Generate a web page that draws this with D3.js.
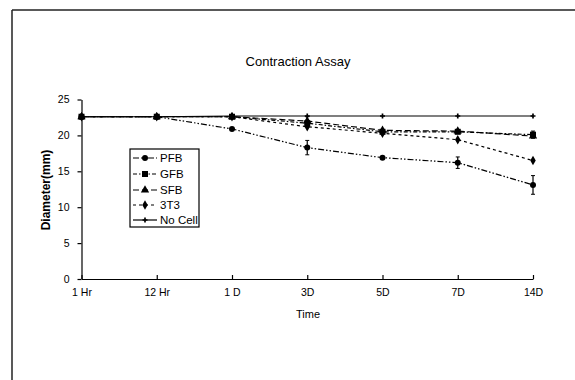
<!DOCTYPE html>
<html>
<head>
<meta charset="utf-8">
<script src="https://cdn.jsdelivr.net/npm/d3@7"></script>
<style>
  body { margin: 0; background: #fff; }
  svg { display: block; font-family: "Liberation Sans", Arial, sans-serif; }
  .axis path, .axis line { stroke: #000; stroke-width: 1.2; }
  .axis text { font-size: 10.5px; fill: #000; }
</style>
</head>
<body>
<svg id="chart" width="575" height="380"></svg>
<script>
// time points
var times = ["1 Hr", "12 Hr", "1 D", "3D", "5D", "7D", "14D"];
var y_ticks = [0, 5, 10, 15, 20, 25];

// diameters (mm)
var pfb   = [22.6, 22.6, 20.9, 18.3, 16.9, 16.2, 13.1];
var gfb   = [22.6, 22.6, 22.6, 21.7, 20.5, 20.5, 20.1];
var sfb   = [22.6, 22.6, 22.6, 22.0, 20.7, 20.6, 19.9];
var t3t3  = [22.6, 22.6, 22.6, 21.2, 20.3, 19.4, 16.5];
var nocell = [22.6, 22.6, 22.7, 22.7, 22.7, 22.7, 22.7];

// error bars (+/- mm)
var pfb_err  = [0, 0, 0, 1.0, 0, 0.8, 1.3];
var gfb_err  = [0, 0, 0, 0.4, 0, 0, 0.5];
var sfb_err  = [0, 0, 0, 0.6, 0, 0, 0];
var t3t3_err = [0, 0, 0, 0, 0, 0, 0];

var series_names = ["PFB", "GFB", "SFB", "3T3", "No Cell"];

var series = [
  { name: series_names[0], values: pfb,    err: pfb_err,  dash: "6,2,1.5,2,1.5,2", marker: "circle" },
  { name: series_names[1], values: gfb,    err: gfb_err,  dash: "4,2,1.5,2",       marker: "square" },
  { name: series_names[2], values: sfb,    err: sfb_err,  dash: "6,3",             marker: "triangle" },
  { name: series_names[3], values: t3t3,   err: t3t3_err, dash: "3,3",             marker: "diamond" },
  { name: series_names[4], values: nocell, err: [0,0,0,0,0,0,0], dash: null,      marker: "star" }
];

var svg = d3.select("#chart");

// outer frame (only top and left edges show)
svg.append("line").attr("x1", 12).attr("y1", 10).attr("x2", 575).attr("y2", 10)
   .attr("stroke", "#222").attr("stroke-width", 1.5);
svg.append("line").attr("x1", 12).attr("y1", 10).attr("x2", 12).attr("y2", 380)
   .attr("stroke", "#222").attr("stroke-width", 1.5);

var x = d3.scalePoint().domain(times).range([81.5, 533]);
var y = d3.scaleLinear().domain([0, 25]).range([279, 99.5]);

// title
svg.append("text")
   .attr("x", 298).attr("y", 66)
   .attr("text-anchor", "middle")
   .style("font-size", "13px")
   .text("Contraction Assay");

// y axis
svg.append("g")
   .attr("class", "axis")
   .attr("transform", "translate(81.5,0)")
   .call(d3.axisLeft(y).tickValues(y_ticks).tickSize(4).tickPadding(8).tickSizeOuter(0));

// x axis
svg.append("g")
   .attr("class", "axis")
   .attr("transform", "translate(0,279)")
   .call(d3.axisBottom(x).tickSize(-4).tickPadding(10).tickSizeOuter(0));

d3.selectAll(".axis .domain").attr("stroke-width", 1.3);

// axis titles
svg.append("text")
   .attr("x", 308).attr("y", 318)
   .attr("text-anchor", "middle")
   .style("font-size", "11px")
   .text("Time");

svg.append("text")
   .attr("transform", "translate(50,190) rotate(-90)")
   .attr("text-anchor", "middle")
   .style("font-size", "12px")
   .style("font-weight", "bold")
   .text("Diameter(mm)");

function drawMarker(g, type, cx, cy) {
  if (type == "circle") {
    g.append("circle").attr("cx", cx).attr("cy", cy).attr("r", 3).attr("fill", "#000");
  }
  else if (type == "square") {
    g.append("rect").attr("x", cx - 3).attr("y", cy - 3).attr("width", 6).attr("height", 6).attr("fill", "#000");
  }
  else if (type == "triangle") {
    g.append("path").attr("d", d3.symbol(d3.symbolTriangle, 30)()).attr("transform", "translate(" + cx + "," + cy + ")").attr("fill", "#000");
  }
  else if (type == "diamond") {
    g.append("path").attr("d", d3.symbol(d3.symbolDiamond, 26)()).attr("transform", "translate(" + cx + "," + cy + ")").attr("fill", "#000");
  }
  else {
    g.append("path").attr("d", d3.symbol(d3.symbolCross, 14)()).attr("transform", "translate(" + cx + "," + cy + ")").attr("fill", "#000");
  }
}

var line = d3.line()
   .x(function(d, i) { return x(times[i]); })
   .y(function(d) { return y(d); });

series.forEach(function(s) {
  var g = svg.append("g");
  g.append("path")
   .attr("d", line(s.values))
   .attr("fill", "none")
   .attr("stroke", "#000")
   .attr("stroke-width", 1.2)
   .attr("stroke-dasharray", s.dash);

  // error bars
  s.values.forEach(function(v, i) {
    if (s.err[i] > 0) {
      var cx = x(times[i]);
      g.append("line").attr("x1", cx).attr("x2", cx)
       .attr("y1", y(v - s.err[i])).attr("y2", y(v + s.err[i]))
       .attr("stroke", "#000").attr("stroke-width", 1.2);
      [v - s.err[i], v + s.err[i]].forEach(function(e) {
        g.append("line").attr("x1", cx - 2).attr("x2", cx + 2)
         .attr("y1", y(e)).attr("y2", y(e))
         .attr("stroke", "#000").attr("stroke-width", 1);
      });
    }
  });

  s.values.forEach(function(v, i) {
    drawMarker(g, s.marker, x(times[i]), y(v));
  });
});

// legend
var legend = svg.append("g");
legend.append("rect")
   .attr("x", 130).attr("y", 149).attr("width", 69).attr("height", 78)
   .attr("fill", "#fff").attr("stroke", "#000").attr("stroke-width", 1.2);

var legend_y = [158, 174, 190, 205, 220];
series.forEach(function(s, i) {
  var ly = legend_y[i];
  legend.append("line")
     .attr("x1", 133).attr("x2", 157)
     .attr("y1", ly).attr("y2", ly)
     .attr("stroke", "#000").attr("stroke-width", 1.2)
     .attr("stroke-dasharray", s.dash);
  drawMarker(legend, s.marker, 145, ly);
  legend.append("text")
     .attr("x", 160).attr("y", ly + 4)
     .style("font-size", "11.5px")
     .text(s.name);
});
</script>
</body>
</html>
